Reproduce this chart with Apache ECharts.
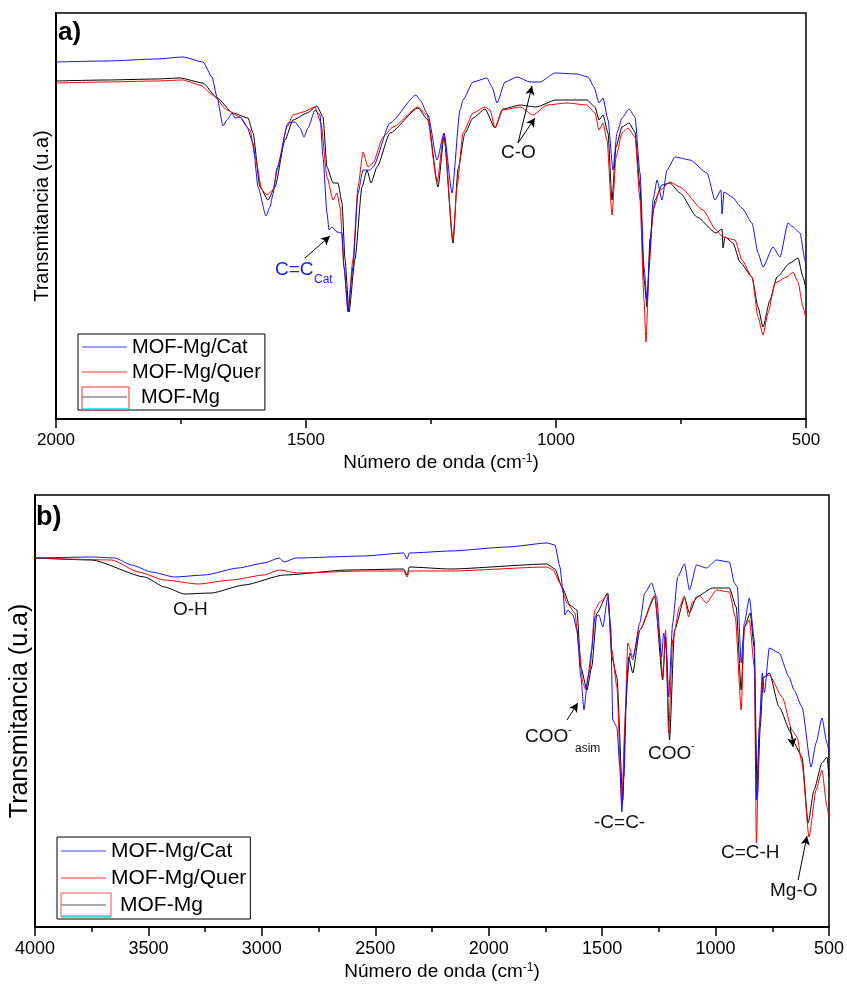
<!DOCTYPE html>
<html><head><meta charset="utf-8">
<script src="https://cdn.jsdelivr.net/npm/echarts@6/dist/echarts.min.js"></script>
<style>html,body{margin:0;padding:0;background:#fff}#c{width:847px;height:985px}</style>
</head><body><div id="c"></div>
<script>
// Panel a) 2000-500 cm-1 : [wavenumber, transmittance (a.u.)]
var aCat = [[2000,357],[1900,358],[1800,360],[1746,362],[1706,357],[1688,342],[1678,322],[1666,293],[1658,299],[1648,306],[1642,301],[1632,302],[1618,292],[1606,276],[1596,232],[1580,203],[1572,212],[1566,225],[1558,251],[1536,296],[1522,297],[1512,291],[1504,282],[1496,291],[1482,309],[1472,304],[1466,262],[1458,206],[1454,189],[1448,192],[1438,187],[1428,186],[1424,152],[1416,107],[1406,152],[1396,226],[1386,249],[1372,249],[1366,252],[1332,296],[1280,324],[1272,319],[1256,304],[1238,259],[1224,286],[1208,226],[1192,309],[1186,319],[1166,337],[1138,341],[1128,332],[1118,316],[1102,337],[1078,342],[1052,337],[1032,337],[1002,346],[958,345],[936,342],[924,332],[914,316],[906,321],[896,299],[886,249],[878,286],[868,301],[854,310],[842,302],[832,246],[824,152],[818,119],[812,169],[806,219],[798,239],[788,219],[778,249],[762,262],[732,259],[698,246],[682,219],[670,229],[668,205],[664,227],[648,222],[628,211],[608,196],[596,166],[586,152],[566,172],[552,162],[536,196],[526,192],[512,186],[502,159],[500,150]];
var aQuer = [[2000,336],[1900,337],[1800,338],[1746,339],[1712,334],[1686,324],[1658,309],[1632,302],[1612,289],[1602,263],[1588,229],[1578,224],[1566,229],[1556,252],[1538,292],[1526,304],[1506,307],[1482,312],[1470,296],[1458,242],[1446,219],[1438,226],[1432,212],[1424,152],[1416,109],[1406,160],[1396,232],[1386,267],[1376,252],[1366,256],[1346,282],[1326,292],[1276,312],[1258,304],[1238,237],[1224,286],[1206,179],[1198,232],[1186,286],[1166,306],[1142,312],[1132,309],[1122,291],[1108,309],[1072,312],[1046,304],[1018,314],[978,316],[938,314],[922,306],[914,289],[906,296],[898,279],[888,204],[880,262],[868,286],[856,291],[842,282],[832,219],[824,119],[820,77],[814,149],[806,209],[792,229],[772,237],[752,232],[706,209],[680,189],[666,182],[642,179],[628,159],[608,142],[596,102],[586,84],[576,106],[562,136],[538,142],[526,147],[516,137],[506,112],[500,100]];
var aMg = [[2000,338],[1900,339],[1800,340],[1752,341],[1706,336],[1678,321],[1646,306],[1616,301],[1606,286],[1592,232],[1576,219],[1562,232],[1542,279],[1526,299],[1498,306],[1478,313],[1466,302],[1458,252],[1446,236],[1436,236],[1428,216],[1422,160],[1414,107],[1402,160],[1388,232],[1378,249],[1370,236],[1358,252],[1332,286],[1276,311],[1256,299],[1236,232],[1224,282],[1206,176],[1196,250],[1182,286],[1166,301],[1142,310],[1122,291],[1106,310],[1072,314],[1040,312],[1000,319],[938,319],[922,312],[914,299],[906,304],[896,286],[888,219],[880,272],[868,292],[854,296],[842,287],[832,232],[824,140],[818,112],[812,180],[802,219],[788,234],[772,236],[752,226],[718,202],[680,186],[668,190],[666,171],[662,182],[646,176],[632,157],[608,142],[596,112],[586,92],[572,119],[558,142],[532,156],[516,161],[506,142],[500,130]];
// Panel b) 4000-500 cm-1
var bCat = [[4000,369],[3750,370],[3649,369],[3574,362],[3486,355],[3385,350],[3253,352],[3104,359],[2990,364],[2924,369],[2902,365],[2850,369],[2551,371],[2375,374],[2360,368],[2350,374],[2169,376],[1918,380],[1743,384],[1708,382],[1686,360],[1673,337],[1664,312],[1651,317],[1629,312],[1611,297],[1594,250],[1580,217],[1563,250],[1546,277],[1532,310],[1514,312],[1497,300],[1475,330],[1462,300],[1453,207],[1435,200],[1422,160],[1413,115],[1404,150],[1391,244],[1378,274],[1365,267],[1334,304],[1312,334],[1282,344],[1260,330],[1238,270],[1229,294],[1216,277],[1207,230],[1189,304],[1167,350],[1137,363],[1115,337],[1084,362],[1040,359],[996,367],[939,365],[917,344],[904,340],[887,264],[873,304],[851,329],[829,287],[820,127],[807,200],[794,254],[785,234],[763,279],[720,274],[676,250],[654,237],[619,220],[579,160],[557,184],[531,209],[509,184],[500,175]];
var bQuer = [[4000,369],[3662,367],[3543,355],[3429,347],[3280,343],[3135,347],[2990,352],[2924,357],[2841,354],[2551,356],[2375,356],[2360,350],[2350,356],[2169,356],[1743,360],[1716,357],[1686,344],[1655,324],[1620,314],[1602,280],[1585,244],[1572,237],[1554,257],[1532,317],[1510,325],[1475,332],[1457,277],[1435,240],[1413,124],[1400,200],[1387,284],[1365,270],[1334,297],[1268,332],[1247,290],[1233,250],[1220,297],[1207,194],[1189,287],[1159,320],[1137,331],[1119,310],[1102,325],[1071,331],[1040,324],[996,337],[939,335],[913,310],[887,217],[873,300],[851,307],[829,260],[820,84],[807,200],[790,250],[763,252],[706,230],[663,197],[641,190],[619,164],[588,90],[557,137],[531,157],[509,120],[500,110]];
var bMg = [[4000,369],[3750,367],[3517,350],[3429,340],[3341,333],[3223,334],[3078,342],[2902,352],[2621,357],[2375,358],[2360,352],[2350,360],[2169,358],[1743,363],[1708,358],[1677,340],[1642,322],[1611,317],[1594,260],[1567,237],[1546,260],[1523,314],[1475,334],[1457,270],[1435,250],[1409,127],[1396,220],[1383,270],[1365,254],[1334,297],[1268,330],[1233,247],[1220,290],[1203,187],[1181,297],[1137,329],[1115,314],[1084,330],[1014,339],[939,339],[909,320],[887,237],[873,300],[847,314],[830,280],[816,130],[803,200],[790,249],[763,254],[720,220],[667,194],[654,184],[619,170],[592,104],[566,137],[531,164],[509,170],[500,150]];
var seriesNames = ['MOF-Mg/Cat','MOF-Mg/Quer','MOF-Mg'];
var xTicksA = {min:500, max:2000, interval:500};
var xTicksB = {min:500, max:4000, interval:500};

var FF = 'Liberation Sans, Arial, sans-serif';
var cBlue = '#1010ff', cRed = '#ff0000', cBlack = '#000000';
var chart = echarts.init(document.getElementById('c'));

function xAxis(gi, t, fs, nmGap) {
  return {
    type:'value', gridIndex:gi, inverse:true, min:t.min, max:t.max, interval:t.interval,
    name:'{n|Número de onda (cm}{s|-1}{n|)}', nameLocation:'middle', nameGap:nmGap,
    nameTextStyle:{padding:[0,0,0,20], rich:{n:{fontFamily:FF,fontSize:19,color:'#000'}, s:{fontFamily:FF,fontSize:12,color:'#000',verticalAlign:'top', padding:[0,0,6,0]}}},
    axisLine:{show:true, lineStyle:{color:'#000', width:2}},
    axisTick:{show:true, length:9, inside:false, lineStyle:{color:'#000', width:1.5}},
    minorTick:{show:true, splitNumber:2, length:5, lineStyle:{color:'#000', width:1.5}},
    axisLabel:{fontFamily:FF, fontSize:fs, color:'#000', margin:13, showMinLabel:true, showMaxLabel:true,
      formatter:function(v){ return String(v); }},
    splitLine:{show:false}, minorSplitLine:{show:false}
  };
}
function yAxis(gi, max, fs, gap) {
  return {
    type:'value', gridIndex:gi, min:0, max:max,
    name:'Transmitancia (u.a)', nameLocation:'middle', nameGap:gap,
    nameTextStyle:{fontFamily:FF, fontSize:fs, color:'#000'},
    axisLine:{show:true, lineStyle:{color:'#000', width:2}},
    axisTick:{show:false}, axisLabel:{show:false}, splitLine:{show:false}
  };
}
function line(name, data, xi, color, extra) {
  var s = {name:name, type:'line', xAxisIndex:xi, yAxisIndex:xi, data:data, symbol:'none',
    showSymbol:false, smooth:0.2, smoothMonotone:'x', lineStyle:{color:color, width:1}, itemStyle:{color:color}, animation:false, z:3};
  if (extra) for (var k in extra) s[k] = extra[k];
  return s;
}
function arrows(pairs) {
  return {silent:true, symbol:['none','arrow'], symbolSize:[7,9], animation:false,
    lineStyle:{color:'#000', width:1, type:'solid'}, label:{show:false},
    data: pairs.map(function(p){ return [{coord:p[0]},{coord:p[1]}]; })};
}

var legendCommon = function(left, top, fs, lh){
  return {left:left, top:top, orient:'vertical', icon:'rect', itemWidth:45, itemHeight:1.2, itemGap:5,
    padding:[3,4,3,4], borderColor:'#000', borderWidth:1, backgroundColor:'#fff',
    textStyle:{fontFamily:FF, fontSize:fs, color:'#000', lineHeight:lh}, selectedMode:false,
    data:[{name:'MOF-Mg/Cat', itemStyle:{color:'#4040ff'}},
          {name:'MOF-Mg/Quer', itemStyle:{color:'#ff3030'}},
          {name:'MOF-Mg', itemStyle:{color:'#555'}, textStyle:{padding:[0,0,0,9]}}]};
};

var option = {
  backgroundColor:'#fff',
  animation:false,
  grid:[
    {left:56, right:41, top:13, height:406, show:true, borderColor:'#000', borderWidth:1.5},
    {left:33, right:17, top:495, height:432, show:true, borderColor:'#000', borderWidth:1.5}
  ],
  xAxis:[xAxis(0, xTicksA, 17, 34), xAxis(1, xTicksB, 18, 35)],
  yAxis:[yAxis(0, 406, 20, 4), yAxis(1, 432, 25, 2)],
  legend:[legendCommon(78, 334, 20, 20), legendCommon(57, 837, 21, 22)],
  series:[
    line(seriesNames[2], aMg, 0, cBlack, {markLine: arrows([[[1502,161],[1452,183]],[[1076,276],[1048,333]],[[1076,276],[1042,301]]])}),
    line(seriesNames[1], aQuer, 0, cRed),
    line(seriesNames[0], aCat, 0, cBlue),
    line(seriesNames[2], bMg, 1, cBlack, {markLine: arrows([[[1655,207],[1607,224]],[[636,47],[597,91]],[[671,200],[658,180]]])}),
    line(seriesNames[1], bQuer, 1, cRed),
    line(seriesNames[0], bCat, 1, cBlue)
  ],
  graphic:[
    {type:'text', left:58, top:20, z:10, style:{text:'a)', font:'bold 26px '+FF, fill:'#000'}},
    {type:'text', left:36, top:504, z:10, style:{text:'b)', font:'bold 27px '+FF, fill:'#000'}},
    // panel a annotations
    {type:'text', x:275, y:270, z:10, style:{text:'C=C', font:'19px '+FF, fill:'#1a1aff', verticalAlign:'middle'}},
    {type:'text', x:314, y:280, z:10, style:{text:'Cat', font:'12px '+FF, fill:'#1a1aff', verticalAlign:'middle'}},
    {type:'text', x:501, y:153, z:10, style:{text:'C-O', font:'19px '+FF, fill:'#111', verticalAlign:'middle'}},
    // panel b annotations
    {type:'text', x:173, y:610, z:10, style:{text:'O-H', font:'19px '+FF, fill:'#111', verticalAlign:'middle'}},
    {type:'text', x:525, y:737, z:10, style:{text:'COO', font:'19px '+FF, fill:'#111', verticalAlign:'middle'}},
    {type:'text', x:568, y:730, z:10, style:{text:'-', font:'11px '+FF, fill:'#111', verticalAlign:'middle'}},
    {type:'text', x:575, y:749, z:10, style:{text:'asim', font:'12px '+FF, fill:'#111', verticalAlign:'middle'}},
    {type:'text', x:594, y:823, z:10, style:{text:'-C=C-', font:'19px '+FF, fill:'#111', verticalAlign:'middle'}},
    {type:'text', x:648, y:754, z:10, style:{text:'COO', font:'19px '+FF, fill:'#111', verticalAlign:'middle'}},
    {type:'text', x:691, y:746, z:10, style:{text:'-', font:'11px '+FF, fill:'#111', verticalAlign:'middle'}},
    {type:'text', x:721, y:853, z:10, style:{text:'C=C-H', font:'19px '+FF, fill:'#111', verticalAlign:'middle'}},
    {type:'text', x:770, y:891, z:10, style:{text:'Mg-O', font:'19px '+FF, fill:'#111', verticalAlign:'middle'}},
    // legend symbol artefacts (red frame + cyan line) on third item
    {type:'rect', z:20, shape:{x:82, y:387, width:47, height:23}, style:{fill:'none', stroke:'#ff3030', lineWidth:1}},
    {type:'line', z:20, shape:{x1:82, y1:409, x2:129, y2:409}, style:{stroke:'#00e5ee', lineWidth:1.5}},
    {type:'rect', z:20, shape:{x:61, y:893, width:50, height:24}, style:{fill:'none', stroke:'#ff5050', lineWidth:1}},
    {type:'line', z:20, shape:{x1:61, y1:916, x2:111, y2:916}, style:{stroke:'#00e5ee', lineWidth:1.5}}
  ]
};
chart.setOption(option);
</script></body></html>
